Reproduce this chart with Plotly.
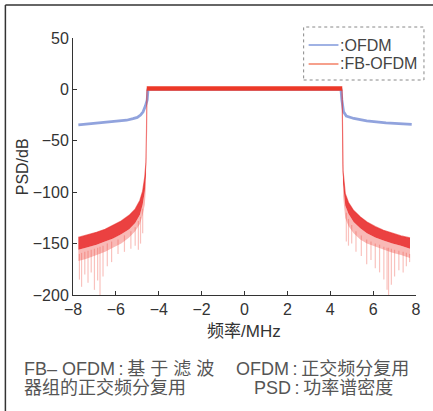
import plotly.graph_objects as go

# ---------------- data ----------------
freq_ticks = [-8, -6, -4, -2, 0, 2, 4, 6, 8]
psd_ticks = [-200, -150, -100, -50, 0, 50]

# OFDM PSD (blue)
ofdm_x = [-7.75, -7.0, -6.5, -6.0, -5.5, -5.2, -5.0, -4.85, -4.73, -4.62, -4.54, -4.5,
          4.5, 4.54, 4.62, 4.75, 5.1, 5.7, 6.6, 7.8]
ofdm_y = [-34.5, -33.2, -32.2, -31.2, -30.0, -28.5, -27.3, -25.0, -21.8, -16.0, -10.4, 0.0,
          0.0, -10.0, -21.8, -26.0, -28.3, -30.6, -32.5, -34.0]

# FB-OFDM PSD (red) - in-band level
fb_band_x = [-4.56, 4.56]
fb_band_y = [0.8, 0.8]

# FB-OFDM left out-of-band: upper edge, dense core bottom, lighter band bottom
fbL_x = [-7.75, -7.4, -6.9, -6.5, -6.14, -5.75, -5.38, -5.1, -4.88, -4.75, -4.65, -4.6, -4.57, -4.55]
fbL_top = [-144, -142, -139, -136, -132.5, -128, -122.5, -116.5, -108, -99, -85, -72, -40, 0]
fbL_mid = [-156, -154, -151, -148, -145, -141, -136, -130, -122, -112, -99, -84, -50, -8]
fbL_low = [-167, -165, -161, -158, -154, -150, -144, -138, -131, -122, -112, -96, -62, -15]

# FB-OFDM right out-of-band
fbR_x = [4.55, 4.57, 4.6, 4.7, 4.85, 5.09, 5.4, 5.71, 6.1, 6.48, 6.9, 7.3, 7.72]
fbR_top = [0, -45, -80, -101.5, -110, -117.8, -124, -129, -133.5, -137, -140, -142.5, -144.5]
fbR_mid = [-8, -55, -92, -113, -121, -129, -135, -140, -144, -147, -150, -152, -155]
fbR_low = [-15, -66, -104, -125, -133, -140, -146, -150, -153, -156, -159, -161, -164]

# downward noise spikes of FB-OFDM (x, start level, end level)
spkL_x = [-7.7, -7.6, -7.45, -7.3, -7.15, -7.0, -6.85, -6.74, -6.6, -6.4, -6.2, -5.9, -5.6,
          -5.3, -5.1, -4.95, -4.85, -4.75]
spkL_top = [-160, -159, -158, -157, -156, -155, -154, -153, -152, -150, -148, -146, -142,
            -138, -134, -128, -124, -116]
spkL_bot = [-185, -192, -180, -188, -178, -195, -186, -203, -182, -172, -168, -160, -158,
            -155, -152, -156, -150, -140]
spkR_x = [4.75, 4.85, 5.0, 5.2, 5.45, 5.7, 5.9, 6.1, 6.3, 6.5, 6.65, 6.72, 6.85, 7.0, 7.2,
          7.4, 7.55, 7.7]
spkR_top = [-120, -126, -132, -138, -142, -146, -148, -150, -151, -153, -154, -154, -155,
            -156, -157, -158, -159, -160]
spkR_bot = [-148, -152, -150, -158, -162, -170, -166, -174, -178, -185, -195, -203, -190,
            -182, -176, -178, -172, -168]

legend_names = [":OFDM", ":FB-OFDM"]
note_left = ["FB– OFDM\u2009:\u2009基 于 滤 波", "器组的正交频分复用"]
note_right = ["OFDM\u2009:\u2009正交频分复用", "PSD\u2009:\u2009功率谱密度"]
x_title = "频率/MHz"
y_title = "PSD/dB"

# ---------------- styling ----------------
W, H = 433, 411
L, R, T, B = 73, 15, 38, 116
PW, PH = W - L - R, H - T - B


def px(x):
    return (x - L) / PW


def py(y):
    return 1 - (y - T) / PH


BLUE = "rgba(118,140,212,0.8)"
RED_CORE = "rgba(232,32,32,0.85)"
RED_OUT = "rgba(238,70,62,0.38)"
RED_SPK = "rgba(238,80,70,0.35)"
LEG_COLORS = ["rgb(160,178,228)", "rgb(246,160,140)"]
TXT = "#333333"
FONT = "Liberation Sans, Arial, sans-serif"
CJK = "Liberation Sans, Noto Sans CJK SC, sans-serif"

fig = go.Figure()

# OFDM
fig.add_trace(go.Scatter(x=ofdm_x, y=ofdm_y, mode="lines", name=legend_names[0],
                         line=dict(color=BLUE, width=2.8), showlegend=False,
                         hoverinfo="skip"))


def band(xs, top, bot, color):
    return go.Scatter(x=list(xs) + list(xs)[::-1], y=list(top) + list(bot)[::-1],
                      mode="lines", fill="toself", fillcolor=color,
                      line=dict(width=0, color=color), showlegend=False,
                      hoverinfo="skip")


def spikes(xs, top, bot):
    sx, sy = [], []
    for a, t, b in zip(xs, top, bot):
        sx += [a, a, None]
        sy += [t, b, None]
    return go.Scatter(x=sx, y=sy, mode="lines", line=dict(color=RED_SPK, width=1.2),
                      showlegend=False, hoverinfo="skip", connectgaps=False)


for xs, top, mid, low, sx, st, sb in [
        (fbL_x, fbL_top, fbL_mid, fbL_low, spkL_x, spkL_top, spkL_bot),
        (fbR_x, fbR_top, fbR_mid, fbR_low, spkR_x, spkR_top, spkR_bot)]:
    fig.add_trace(spikes(sx, st, sb))
    fig.add_trace(band(xs, mid, low, RED_OUT))
    fig.add_trace(band(xs, top, mid, RED_CORE))
    fig.add_trace(go.Scatter(x=xs, y=top, mode="lines",
                             line=dict(color="rgba(232,40,36,0.6)", width=1.2),
                             showlegend=False, hoverinfo="skip"))

fig.add_trace(go.Scatter(x=fb_band_x, y=fb_band_y, mode="lines", name=legend_names[1],
                         line=dict(color="rgb(236,56,40)", width=4.5),
                         showlegend=False, hoverinfo="skip"))

axis_common = dict(showline=True, linecolor=TXT, linewidth=1, ticks="inside",
                   ticklen=4, tickcolor=TXT, tickwidth=1, showgrid=False,
                   zeroline=False, mirror=False,
                   tickfont=dict(family=FONT, size=16, color=TXT))

fig.update_xaxes(range=[-8, 8], tickmode="array", tickvals=freq_ticks, **axis_common)
fig.update_yaxes(range=[-200, 50], tickmode="array", tickvals=psd_ticks, **axis_common)

shapes = [
    # outer frame (left and top)
    dict(type="line", xref="paper", yref="paper", x0=px(5), x1=px(5), y0=py(5), y1=py(H + 5),
         line=dict(color="#333", width=1.5)),
    dict(type="line", xref="paper", yref="paper", x0=px(5), x1=px(W + 5), y0=py(5), y1=py(5),
         line=dict(color="#333", width=1.5)),
    # dotted legend box
    dict(type="rect", xref="paper", yref="paper", x0=px(305), x1=px(426), y0=py(80), y1=py(27),
         line=dict(color="#888", width=1, dash="dot")),
]
annotations = []

# legend drawn manually inside the dotted box
for i, (name, col) in enumerate(zip(legend_names, LEG_COLORS)):
    yy = 45 + 19 * i
    shapes.append(dict(type="line", xref="paper", yref="paper", x0=px(310), x1=px(340),
                       y0=py(yy), y1=py(yy), line=dict(color=col, width=2)))
    annotations.append(dict(text=name, xref="paper", yref="paper", x=px(340), y=py(yy),
                            showarrow=False, xanchor="left", yanchor="middle",
                            font=dict(family=FONT, size=16, color="#444")))

annotations += [
    dict(text=x_title, xref="paper", yref="paper", x=px(245), y=py(331), showarrow=False,
         xanchor="center", yanchor="middle", font=dict(family=CJK, size=17, color=TXT)),
    dict(text=y_title, xref="paper", yref="paper", x=px(22.5), y=py(166.5), showarrow=False,
         textangle=-90, xanchor="center", yanchor="middle",
         font=dict(family=FONT, size=16, color=TXT)),
]
for i, t in enumerate(note_left):
    annotations.append(dict(text=t, xref="paper", yref="paper", x=px(22), y=py(369 + 19 * i),
                            showarrow=False, xanchor="left", yanchor="middle",
                            font=dict(family=CJK, size=18, color="#555")))
for t, xl, yl in zip(note_right, [235, 253], [369, 388]):
    annotations.append(dict(text=t, xref="paper", yref="paper", x=px(xl), y=py(yl),
                            showarrow=False, xanchor="left", yanchor="middle",
                            font=dict(family=CJK, size=18, color="#555")))

fig.update_layout(
    width=W, height=H, margin=dict(l=L, r=R, t=T, b=B, pad=0),
    paper_bgcolor="white", plot_bgcolor="white",
    showlegend=False,
    shapes=shapes, annotations=annotations,
)

fig.write_html("out.html", config={"displayModeBar": False},
               post_script="document.body.style.margin='0';document.body.style.overflow='hidden';")
